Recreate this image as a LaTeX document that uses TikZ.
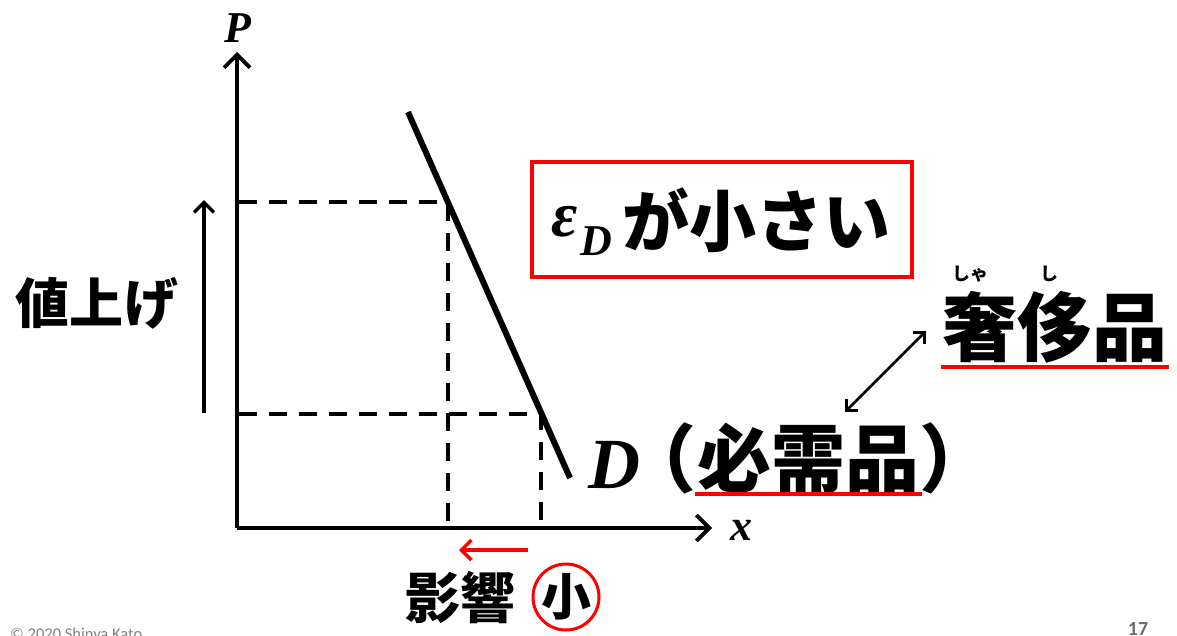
\documentclass[tikz,border=0pt]{standalone}
\usepackage{fontspec}
\setmainfont{Liberation Serif}
\newfontfamily\jp{Noto Sans CJK JP}
\newfontfamily\calib{Carlito}
\usetikzlibrary{arrows.meta}
\definecolor{pptred}{RGB}{255,0,0}
\begin{document}
\begin{tikzpicture}[x=1pt,y=-1pt,
  axis/.style={line width=3.8pt,-{Straight Barb[length=13pt,width=26pt,line width=3.8pt]}},
  guide/.style={line width=3.2pt,dash pattern=on 18pt off 12pt},
  curve/.style={line width=6pt},
  thinarrow/.style={line width=3.5pt,-{Straight Barb[length=10pt,width=20pt,line width=3.5pt]}},
  dbl/.style={line width=2.6pt,{Straight Barb[length=8pt,width=16pt,line width=2.6pt]}-{Straight Barb[length=8pt,width=16pt,line width=2.6pt]}},
  redarrow/.style={pptred,line width=3.5pt,-{Straight Barb[length=10pt,width=20pt,line width=3.5pt]}},
  redline/.style={pptred,line width=3.5pt},
  jpbold/.style={inner sep=0pt,font=\jp\bfseries\fontsize{#1}{#1}\selectfont},
  mathbi/.style={inner sep=0pt,font=\bfseries\itshape\fontsize{#1}{#1}\selectfont},
]
\useasboundingbox (0,0) rectangle (1177,635);

% axes
\coordinate (O) at (237,528);
\coordinate (ytop) at (237,52);
\coordinate (xend) at (712,528);
\draw[axis] (O) -- (ytop);
\draw[axis] (O) -- (xend);
\node[mathbi=44] (P) at (238,28) {P};
\node[mathbi=44] (xl) at (741,530) {x};

% demand curve
\coordinate (d1) at (408,112);
\coordinate (d2) at (570,478);
\draw[curve] (d1) -- (d2);

% guide lines
\coordinate (ya) at (239,202);
\coordinate (pa) at (448,202);
\coordinate (xa) at (448,528);
\coordinate (yb) at (239,414);
\coordinate (pb) at (541,414);
\coordinate (xb) at (541,528);
\draw[guide] (ya) -- (pa) -- (xa);
\draw[guide] (yb) -- (pb) -- (xb);

% price rise arrow
\coordinate (ra) at (204,413);
\coordinate (rb) at (204,200);
\draw[thinarrow] (ra) -- (rb);
\node[jpbold=54] (rise) at (97,303) {値上げ};

% box
\node[draw=pptred,line width=3.2pt,minimum width=380pt,minimum height=115pt,inner sep=0pt] (box) at (722,219.5) {};
\node[mathbi=64,anchor=base] (eps) at (565,236) {ε};
\node[mathbi=44,anchor=base] (epsD) at (596,255) {D};
\node[jpbold=67] (small) at (756,220) {が小さい};

% necessity
\node[mathbi=72,anchor=base] (Dl) at (614,488) {D};
\node[jpbold=74] (nec) at (808,458) {必需品};
\node[jpbold=74,anchor=east] (lp) at (nec.west) {\makebox[0.5em][r]{（}};
\node[jpbold=74,anchor=west] (rp) at (nec.east) {\makebox[0.5em][l]{）}};
\coordinate (u1) at (695,494);
\coordinate (u2) at (922,494);
\draw[redline] (u1) -- (u2);

% luxury
\node[jpbold=75] (lux) at (1055,327) {奢侈品};
\node[jpbold=18] (ruby1) at (970,274) {しゃ};
\node[jpbold=18] (ruby2) at (1049,274) {し};
\coordinate (v1) at (941,367);
\coordinate (v2) at (1169,367);
\draw[redline] (v1) -- (v2);
\coordinate (da) at (845,412);
\coordinate (db) at (926,331);
\draw[dbl] (da) -- (db);

% effect small
\coordinate (la) at (528,550);
\coordinate (lb) at (459,550);
\draw[redarrow] (la) -- (lb);
\node[jpbold=55] (eff) at (460,598) {影響};
\node[jpbold=50] (sm) at (566,597) {小};
\node[draw=pptred,line width=3pt,circle,minimum size=66pt,inner sep=0pt] (circ) at (566,597) {};

% footer
\node[anchor=north west,inner sep=0pt,text=gray,font=\calib\fontsize{16.5}{16.5}\selectfont] (copy) at (10,628) {© 2020 Shinya Kato};
\node[anchor=north,inner sep=0pt,text=gray!85!black,font=\calib\bfseries\fontsize{20}{20}\selectfont] (pg) at (1138,622) {17};
\end{tikzpicture}
\end{document}
